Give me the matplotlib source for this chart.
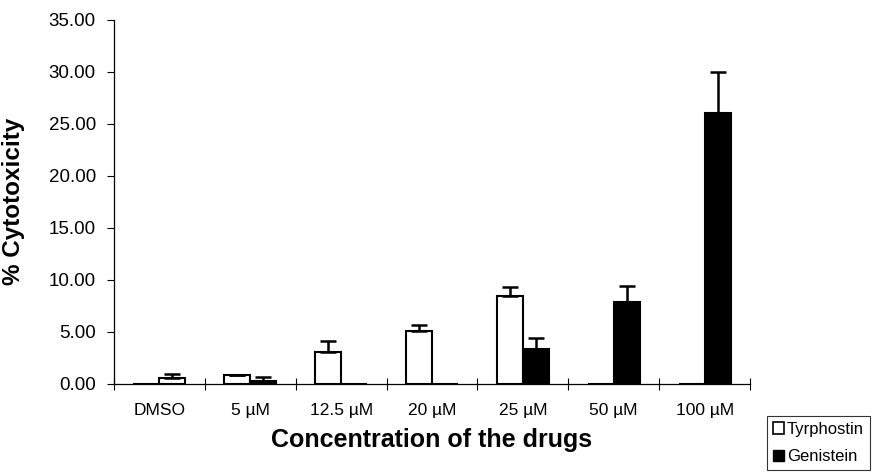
import matplotlib
matplotlib.use("Agg")
import matplotlib.pyplot as plt
import numpy as np
from matplotlib.patches import Patch

plt.rcParams['font.family'] = ['Liberation Sans', 'DejaVu Sans']

categories = ["DMSO", "5 µM", "12.5 µM", "20 µM", "25 µM", "50 µM", "100 µM"]
tyrphostin = [0.0, 0.85, 3.05, 5.05, 8.45, 0.0, 0.0]
tyrphostin_err = [0.0, 0.0, 1.1, 0.6, 0.9, 0.0, 0.0]
genistein = [0.55, 0.32, 0.0, 0.0, 3.4, 7.9, 26.1]
genistein_err = [0.42, 0.33, 0.0, 0.0, 1.0, 1.5, 3.9]
# DMSO control in the Genistein slot is drawn with white fill in the original
genistein_colors = ["white", "black", "black", "black", "black", "black", "black"]

fig = plt.figure(figsize=(8.72, 4.75), dpi=100)
ax = fig.add_axes([114/872, 1-384/475, 636/872, 364/475])

x = np.arange(len(categories))
w = 1/3.5

ekw = dict(elinewidth=1.8, capthick=1.8, ecolor='black')
ax.bar(x - w/2, tyrphostin, w, color='white', edgecolor='black', linewidth=1.5,
       yerr=[np.zeros(len(x)), tyrphostin_err], capsize=6, error_kw=ekw, zorder=3)
ax.bar(x + w/2, genistein, w, color=genistein_colors, edgecolor='black', linewidth=1.5,
       yerr=[np.zeros(len(x)), genistein_err], capsize=6, error_kw=ekw, zorder=3)

ax.set_xlim(-0.5, len(categories) - 0.5)
ax.set_ylim(0, 35)
ax.set_yticks(np.arange(0, 36, 5))
ax.set_yticklabels([f"{v:.2f}" for v in np.arange(0, 36, 5)], fontsize=13.5)
ax.tick_params(axis='y', direction='out', length=5, width=0.8, pad=8)

ax.set_xticks(x)
ax.set_xticklabels(categories, fontsize=12.5)
ax.tick_params(axis='x', which='major', length=0, pad=14)
ax.set_xticks(np.arange(-0.5, len(categories), 1), minor=True)
ax.tick_params(axis='x', which='minor', direction='inout', length=8, width=0.8)

for s in ['top', 'right']:
    ax.spines[s].set_visible(False)
for s in ['left', 'bottom']:
    ax.spines[s].set_linewidth(0.9)

ax.set_ylabel("% Cytotoxicity", fontsize=17.5, fontweight='bold')
ax.yaxis.set_label_coords(-0.140, 0.503)
ax.set_xlabel("Concentration of the drugs", fontsize=18, fontweight='bold', va='center')
ax.xaxis.set_label_coords(0.5, -0.154)

handles = [Patch(facecolor='white', edgecolor='black', linewidth=1.2, label='Tyrphostin'),
           Patch(facecolor='black', edgecolor='black', label='Genistein')]
leg = fig.legend(handles=handles, loc='upper left', bbox_to_anchor=(767/872, 1-416/475),
                 fontsize=12, frameon=True, fancybox=False, edgecolor='black',
                 handlelength=0.65, handleheight=0.65, handletextpad=0.2,
                 borderpad=0.35, labelspacing=0.75, borderaxespad=0)
leg.get_frame().set_linewidth(0.8)

fig.savefig("out.png", dpi=100)
